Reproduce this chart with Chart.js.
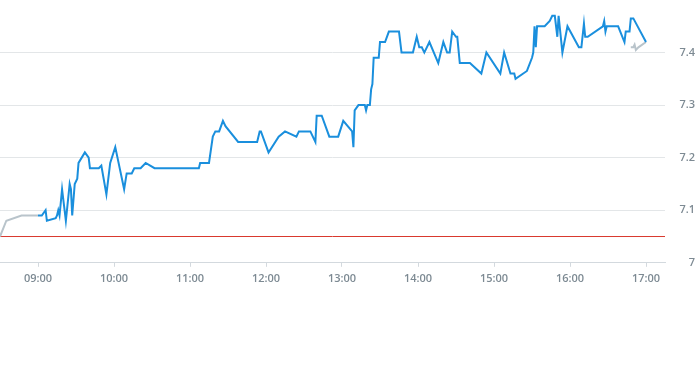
<!DOCTYPE html>
<html lang="en">
  <head>
    <meta charset="utf-8" />
    <title>Intraday price</title>
    <style>
      body { margin: 0; background: #fff; }
      #wrap { position: relative; width: 695px; height: 290px; }
    </style>
  </head>
  <body>
    <div id="wrap">
      <canvas id="line-chart"></canvas>
    </div>

    <script src="https://cdn.jsdelivr.net/npm/chart.js@4.4.0/dist/chart.umd.min.js"></script>
    <script>
      // session prices (blue)
      const TIMES = [
        "09:00", "09:03", "09:06", "09:07", "09:14", "09:15", "09:16", "09:17", "09:19", "09:22",
        "09:25", "09:26", "09:27", "09:29", "09:31", "09:32", "09:37", "09:40", "09:41", "09:48",
        "09:50", "09:54", "09:57", "10:01", "10:08", "10:10", "10:14", "10:16", "10:21", "10:25",
        "10:32", "11:07", "11:08", "11:15", "11:18", "11:20", "11:23", "11:26", "11:28", "11:38",
        "11:53", "11:55", "11:56", "12:02", "12:10", "12:15", "12:24", "12:26", "12:35", "12:39",
        "12:40", "12:44", "12:50", "12:57", "13:01", "13:08", "13:09", "13:10", "13:13", "13:18",
        "13:19", "13:20", "13:22", "13:23", "13:24", "13:25", "13:29", "13:30", "13:34", "13:37",
        "13:45", "13:47", "13:56", "13:59", "14:01", "14:03", "14:05", "14:09", "14:16", "14:20",
        "14:23", "14:25", "14:27", "14:30", "14:31", "14:33", "14:41", "14:50", "14:54", "15:05",
        "15:08", "15:13", "15:16", "15:17", "15:26", "15:30", "15:31", "15:32", "15:33", "15:34",
        "15:40", "15:44", "15:46", "15:48", "15:50", "15:51", "15:54", "15:58", "16:07", "16:09",
        "16:11", "16:12", "16:14", "16:26", "16:27", "16:28", "16:29", "16:38", "16:43", "16:44",
        "16:47", "16:48", "16:50", "17:00"
      ];
      const PRICES = [
        7.09, 7.09, 7.10, 7.08, 7.085, 7.09, 7.10, 7.09, 7.14, 7.08,
        7.15, 7.14, 7.09, 7.15, 7.16, 7.19, 7.21, 7.20, 7.18, 7.18,
        7.185, 7.13, 7.19, 7.22, 7.14, 7.17, 7.17, 7.18, 7.18, 7.19,
        7.18, 7.18, 7.19, 7.19, 7.24, 7.25, 7.25, 7.27, 7.26, 7.23,
        7.23, 7.25, 7.25, 7.21, 7.24, 7.25, 7.24, 7.25, 7.25, 7.23,
        7.28, 7.28, 7.24, 7.24, 7.27, 7.25, 7.22, 7.29, 7.30, 7.30,
        7.29, 7.30, 7.30, 7.33, 7.34, 7.39, 7.39, 7.42, 7.42, 7.44,
        7.44, 7.40, 7.40, 7.43, 7.41, 7.41, 7.40, 7.42, 7.38, 7.42,
        7.40, 7.40, 7.44, 7.43, 7.43, 7.38, 7.38, 7.36, 7.40, 7.36,
        7.40, 7.36, 7.36, 7.35, 7.365, 7.39, 7.40, 7.45, 7.41, 7.45,
        7.45, 7.46, 7.47, 7.47, 7.43, 7.47, 7.40, 7.45, 7.41, 7.41,
        7.455, 7.43, 7.43, 7.45, 7.46, 7.44, 7.45, 7.45, 7.42, 7.44,
        7.44, 7.465, 7.465, 7.42
      ];

      // pre-market and after-hours (grey)
      const PRE_TIMES = ["08:30", "08:35", "08:47", "09:00"];
      const PRE_PRICES = [7.05, 7.08, 7.09, 7.09];
      const POST_TIMES = ["16:48", "16:50", "16:51", "16:52", "16:54", "17:00"];
      const POST_PRICES = [7.41, 7.41, 7.415, 7.405, 7.41, 7.42];

      const PREV_CLOSE = 7.05;

      const HOUR_TICKS = ["09:00", "10:00", "11:00", "12:00", "13:00", "14:00", "15:00", "16:00", "17:00"];
      const Y_TICKS = [7, 7.1, 7.2, 7.3, 7.4];

      const X_MIN = "08:30";
      const X_MAX = "17:15";

      const toMin = (t) => {
        const p = t.split(":");
        return parseInt(p[0]) * 60 + parseInt(p[1]);
      };
      const fmt = (m) => {
        const h = Math.floor(m / 60), mm = m % 60;
        return String(h).padStart(2, "0") + ":" + String(mm).padStart(2, "0");
      };
      const pts = (times, vals) => times.map((t, i) => ({ x: toMin(t), y: vals[i] }));

      const TICK_COLOR = "#7d8a93";
      const AXIS_COLOR = "#d3d9de";

      new Chart(document.getElementById("line-chart"), {
        type: "line",
        data: {
          datasets: [
            {
              label: "Price",
              data: pts(TIMES, PRICES),
              borderColor: "#1a8fdd",
              borderWidth: 2,
              pointRadius: 0,
              tension: 0,
              order: 0,
            },
            {
              label: "Pre",
              data: pts(PRE_TIMES, PRE_PRICES),
              borderColor: "#b9c4cb",
              borderWidth: 2,
              pointRadius: 0,
              tension: 0,
              order: 1,
            },
            {
              label: "Post",
              data: pts(POST_TIMES, POST_PRICES),
              borderColor: "#b9c4cb",
              borderWidth: 2,
              pointRadius: 0,
              tension: 0,
              order: 1,
            },
            {
              label: "Previous close",
              data: [
                { x: toMin(X_MIN), y: PREV_CLOSE },
                { x: toMin(X_MAX), y: PREV_CLOSE },
              ],
              borderColor: "#d9392e",
              borderWidth: 1,
              pointRadius: 0,
              order: 2,
            },
          ],
        },
        options: {
          responsive: true,
          maintainAspectRatio: false,
          animation: false,
          layout: { padding: 0 },
          plugins: {
            legend: { display: false },
            tooltip: { enabled: false },
          },
          scales: {
            x: {
              type: "linear",
              min: toMin(X_MIN),
              max: toMin(X_MAX),
              afterBuildTicks: (axis) => {
                axis.ticks = HOUR_TICKS.map((t) => ({ value: toMin(t) }));
              },
              grid: {
                drawOnChartArea: false,
                color: AXIS_COLOR,
                tickLength: 4,
              },
              border: { display: true, color: AXIS_COLOR },
              ticks: {
                maxRotation: 0,
                padding: 5,
                color: TICK_COLOR,
                font: { family: "'Open Sans'", size: 11, weight: "600" },
                callback: (v) => fmt(v),
              },
            },
            y: {
              position: "right",
              min: 7,
              max: 7.5,
              afterBuildTicks: (axis) => {
                axis.ticks = Y_TICKS.map((v) => ({ value: v }));
              },
              afterFit: (axis) => {
                // keep the plot flush to the top and the labels in a 30px column
                axis.width = 30;
                axis.paddingTop = 0;
              },
              grid: { color: "#e3e6e8", drawTicks: false },
              border: { display: false },
              ticks: {
                padding: 0,
                crossAlign: "far",
                color: TICK_COLOR,
                font: { family: "'Open Sans'", size: 11, weight: "600" },
                callback: (v) => String(Math.round(v * 10) / 10),
              },
            },
          },
        },
      });
    </script>
  </body>
</html>
